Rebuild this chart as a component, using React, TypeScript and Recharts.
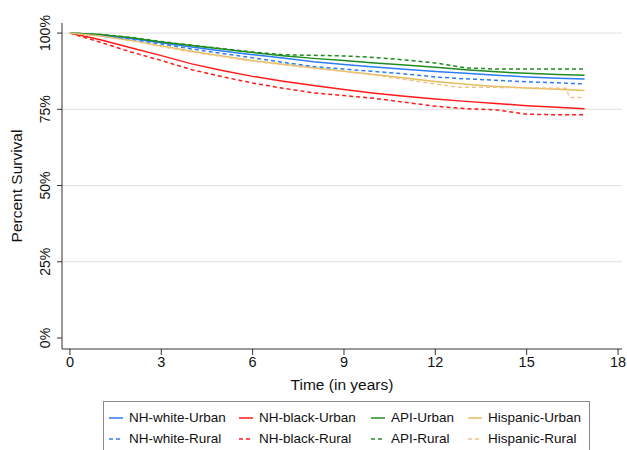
import React from "react";
import {
  LineChart,
  Line,
  XAxis,
  YAxis,
  ReferenceLine,
} from "recharts";

// survival (%), by follow-up year
const years = [0, 1, 2, 3, 4, 5, 6, 7, 8, 9, 10, 11, 12, 13, 14, 15, 16, 16.9];
const whiteUrban = [100, 99.3, 98.2, 96.8, 95.4, 94.1, 92.9, 91.8, 90.6, 89.7, 88.9, 88.1, 87.4, 86.8, 86.2, 85.6, 85.2, 84.9];
const whiteRural = [100, 99.2, 98.0, 96.4, 94.8, 93.3, 91.9, 90.4, 89.0, 88.2, 87.4, 86.6, 85.6, 85.0, 84.5, 84.0, 83.7, 83.3];
const blackUrban = [100, 97.8, 95.2, 92.6, 89.9, 87.7, 85.8, 84.2, 82.8, 81.5, 80.3, 79.3, 78.4, 77.6, 76.9, 76.2, 75.7, 75.2];
const blackRural = [100, 97.0, 93.8, 91.0, 88.0, 85.7, 83.6, 81.9, 80.4, 79.5, 78.6, 77.3, 76.0, 75.2, 74.8, 73.4, 73.2, 73.2];
const apiUrban = [100, 99.5, 98.5, 97.1, 95.9, 94.8, 93.6, 92.6, 91.7, 91.0, 90.2, 89.5, 88.8, 88.0, 87.3, 86.8, 86.4, 86.2];
const apiRural = [100, 99.5, 98.6, 97.2, 96.0, 94.9, 93.8, 92.9, 92.7, 92.5, 92.0, 91.2, 90.2, 88.6, 88.2, 88.2, 88.2, 88.2];
const hispUrban = [100, 99.0, 97.6, 95.8, 94.0, 92.5, 91.0, 89.8, 88.6, 87.5, 86.4, 85.3, 84.1, 83.2, 82.5, 82.0, 81.6, 81.2];

const hispRuralYears = [0, 1, 2, 3, 4, 5, 6, 7, 8, 9, 10, 11, 12, 12.8, 14, 15, 16, 16.3, 16.4, 16.9];
const hispRural = [100, 99.0, 97.5, 95.6, 93.8, 92.3, 90.8, 89.6, 88.5, 87.4, 86.2, 84.8, 83.3, 82.2, 82.2, 82.1, 81.9, 81.9, 78.9, 78.9];

const xTicks = [0, 3, 6, 9, 12, 15, 18];
const yTicks = [0, 25, 50, 75, 100];
const gridAt = [25, 50, 75, 100];

const font = "'Liberation Sans', Arial, Helvetica, sans-serif";

const toRows = (xs: number[], ys: number[]) => xs.map((t, i) => ({ t, s: ys[i] }));

const series = [
  { name: "NH-white-Urban", data: toRows(years, whiteUrban), color: "#2b7cf6", dash: undefined },
  { name: "NH-black-Urban", data: toRows(years, blackUrban), color: "#ff1a1a", dash: undefined },
  { name: "API-Urban", data: toRows(years, apiUrban), color: "#1e8c1e", dash: undefined },
  { name: "Hispanic-Urban", data: toRows(years, hispUrban), color: "#e6bd5c", dash: undefined },
  { name: "NH-white-Rural", data: toRows(years, whiteRural), color: "#2b7cf6", dash: "4 3" },
  { name: "NH-black-Rural", data: toRows(years, blackRural), color: "#ff1a1a", dash: "4 3" },
  { name: "API-Rural", data: toRows(years, apiRural), color: "#1e8c1e", dash: "4 3" },
  { name: "Hispanic-Rural", data: toRows(hispRuralYears, hispRural), color: "#eec58a", dash: "4 3" },
];

function YTick({ x, y, payload }: any) {
  return (
    <g transform={`translate(${x - 5},${y})`}>
      <text transform="rotate(-90)" textAnchor="middle" fontSize={14} fill="#111" fontFamily={font}>
        {payload.value}%
      </text>
    </g>
  );
}

function YTitle({ viewBox }: any) {
  const cy = viewBox.y + viewBox.height / 2;
  return (
    <text x={22} y={cy} transform={`rotate(-90, 22, ${cy})`} textAnchor="middle" fontSize={15.5} fill="#111" fontFamily={font}>
      Percent Survival
    </text>
  );
}

function LegendBox() {
  const cols = [0, 1, 2, 3];
  const colX = [5, 135, 267, 364];
  return (
    <div
      style={{
        position: "absolute",
        left: 103,
        top: 401,
        width: 485,
        height: 60,
        border: "1px solid #8a8a8a",
        background: "#fff",
        fontFamily: font,
        fontSize: 13.5,
        color: "#111",
      }}
    >
      {cols.map((c) =>
        [0, 1].map((r) => {
          const s = series[r * 4 + c];
          return (
            <div
              key={s.name}
              style={{ position: "absolute", left: colX[c], top: 8 + r * 21, display: "flex", alignItems: "center", whiteSpace: "nowrap" }}
            >
              <svg width={18} height={10}>
                <line x1={0} x2={14} y1={5} y2={5} stroke={s.color} strokeWidth={1.5} strokeDasharray={s.dash} />
              </svg>
              <span style={{ marginLeft: 2 }}>{s.name}</span>
            </div>
          );
        })
      )}
    </div>
  );
}

export default function App() {
  return (
    <div style={{ width: 627, height: 450, background: "#fff", overflow: "hidden", position: "relative" }}>
      <style>{`body{margin:0}`}</style>
      <LineChart width={627} height={450} margin={{ top: 23, right: 5, left: 0, bottom: 56 }}>
        {gridAt.map((v) => (
          <ReferenceLine key={v} y={v} stroke="#dedede" strokeWidth={1} />
        ))}
        <XAxis
          dataKey="t"
          type="number"
          domain={[-0.26, 18.13]}
          ticks={xTicks}
          allowDataOverflow
          height={45}
          stroke="#333"
          tickSize={6}
          tick={{ fill: "#111", fontSize: 14.5, fontFamily: font }}
          label={{ value: "Time (in years)", position: "insideBottom", offset: 4, fill: "#111", fontSize: 15.5, fontFamily: font }}
        />
        <YAxis
          type="number"
          domain={[-3.6, 103.3]}
          ticks={yTicks}
          allowDataOverflow
          width={62}
          stroke="#333"
          tickSize={5}
          tick={<YTick />}
          label={<YTitle />}
        />
        {series.map((s) => (
          <Line
            key={s.name}
            data={s.data}
            dataKey="s"
            name={s.name}
            type="linear"
            stroke={s.color}
            strokeWidth={1.5}
            strokeDasharray={s.dash}
            dot={false}
            activeDot={false}
            isAnimationActive={false}
          />
        ))}
      </LineChart>
      <LegendBox />
    </div>
  );
}
